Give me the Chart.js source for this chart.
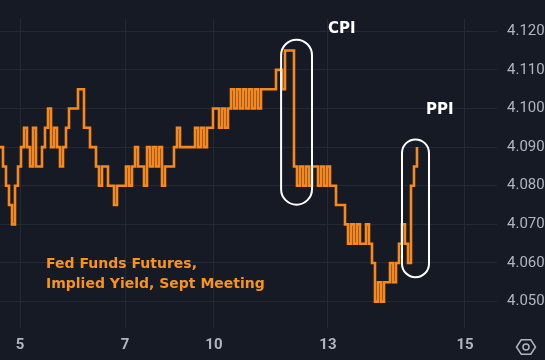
<!DOCTYPE html>
<html>
<head>
<meta charset="utf-8">
<script src="https://cdn.jsdelivr.net/npm/chart.js@4.4.1/dist/chart.umd.min.js"></script>
<style>
  html, body { margin: 0; padding: 0; background: #161a25; }
  canvas { display: block; }
</style>
</head>
<body>
<canvas id="myChart" width="545" height="360"></canvas>
<script>
// implied yield, one sample per step of the time axis
const yieldValues = [
  4.090, 4.085, 4.080, 4.075, 4.070, 4.080, 4.085, 4.090, 4.095, 4.090,
  4.085, 4.095, 4.085, 4.085, 4.090, 4.095, 4.100, 4.090, 4.095, 4.090,
  4.085, 4.090, 4.095, 4.100, 4.100, 4.100, 4.105, 4.105, 4.095, 4.095,
  4.090, 4.090, 4.085, 4.080, 4.085, 4.085, 4.080, 4.080, 4.075, 4.080,
  4.080, 4.080, 4.085, 4.080, 4.085, 4.090, 4.085, 4.085, 4.080, 4.090,
  4.085, 4.090, 4.085, 4.090, 4.080, 4.085, 4.085, 4.085, 4.090, 4.095,
  4.090, 4.090, 4.090, 4.090, 4.090, 4.095, 4.090, 4.095, 4.090, 4.095,
  4.095, 4.100, 4.100, 4.095, 4.100, 4.095, 4.100, 4.105, 4.100, 4.105,
  4.100, 4.105, 4.100, 4.105, 4.100, 4.105, 4.100, 4.105, 4.105, 4.105,
  4.105, 4.105, 4.110, 4.110, 4.105, 4.115, 4.115, 4.115, 4.085, 4.080,
  4.085, 4.080, 4.085, 4.080, 4.085, 4.085, 4.080, 4.085, 4.080, 4.085,
  4.080, 4.080, 4.075, 4.075, 4.075, 4.070, 4.065, 4.070, 4.065, 4.070,
  4.065, 4.065, 4.070, 4.065, 4.060, 4.050, 4.055, 4.050, 4.055, 4.055,
  4.060, 4.055, 4.060, 4.065, 4.070, 4.065, 4.060, 4.080, 4.085, 4.090
];
const dayLabels = ['5', '7', '10', '13', '15'];
const dayPositions = [6.7, 41.7, 71.3, 109.3, 155];
const yTicks = [4.05, 4.06, 4.07, 4.08, 4.09, 4.10, 4.11, 4.12];

const points = yieldValues.map((v, i) => ({ x: i, y: v }));

const overlay = {
  id: 'overlay',
  afterDraw(chart) {
    const c = chart.ctx;
    const xs = chart.scales.x, ys = chart.scales.y;

    function pill(x0, x1, y0, y1) {
      const l = xs.getPixelForValue(x0), r = xs.getPixelForValue(x1);
      const t = ys.getPixelForValue(y0), b = ys.getPixelForValue(y1);
      c.beginPath();
      c.roundRect(l, t, r - l, b - t, (r - l) / 2);
      c.stroke();
    }
    c.save();
    c.strokeStyle = '#ffffff';
    c.lineWidth = 2;
    pill(93.7, 104, 4.1178, 4.0751);   // CPI
    pill(134, 143, 4.0920, 4.0563);    // PPI

    c.fillStyle = '#ffffff';
    c.font = 'bold 15px "DejaVu Sans"';
    c.textBaseline = 'middle';
    c.fillText('CPI', 328, 29);
    c.fillText('PPI', 426, 110);

    c.fillStyle = '#f7941d';
    c.font = 'bold 14px "DejaVu Sans"';
    c.fillText('Fed Funds Futures,', 46, 264);
    c.fillText('Implied Yield, Sept Meeting', 46, 284);

    // settings icon
    c.strokeStyle = '#b2b5be';
    c.lineWidth = 1.5;
    const cx = 526, cy = 347, rw = 9.5;
    c.beginPath();
    for (let k = 0; k < 6; k++) {
      const a = Math.PI / 3 * k;
      const px = cx + rw * Math.cos(a), py = cy + rw * 0.87 * Math.sin(a);
      k ? c.lineTo(px, py) : c.moveTo(px, py);
    }
    c.closePath();
    c.stroke();
    c.beginPath();
    c.arc(cx, cy, 3, 0, Math.PI * 2);
    c.stroke();
    c.restore();
  }
};

const ctx = document.getElementById('myChart').getContext('2d');
const myChart = new Chart(ctx, {
  type: 'line',
  data: {
    datasets: [{
      data: points,
      borderColor: '#f7891c',
      borderWidth: 2.6,
      stepped: true,
      pointRadius: 0,
      fill: false
    }]
  },
  options: {
    responsive: false,
    animation: false,
    layout: { padding: 0 },
    plugins: { legend: { display: false }, tooltip: { enabled: false } },
    scales: {
      x: {
        type: 'linear',
        min: 0,
        max: 165.67,
        afterBuildTicks: s => { s.ticks = dayPositions.map(v => ({ value: v })); },
        afterFit: s => { s.height = 32; },
        grid: { color: '#242936', drawTicks: false },
        border: { display: false },
        ticks: {
          padding: 8,
          color: '#b2b5be',
          font: { family: 'Roboto', size: 15, weight: 'bold' },
          maxRotation: 0,
          autoSkip: false,
          callback: (v, i) => dayLabels[i]
        }
      },
      y: {
        position: 'right',
        min: 4.04317,
        max: 4.12317,
        afterBuildTicks: s => { s.ticks = yTicks.map(v => ({ value: v })); },
        afterFit: s => { s.width = 48; },
        grid: { color: '#242936', drawTicks: false },
        border: { display: false },
        ticks: {
          padding: 10,
          color: '#b2b5be',
          font: { family: 'Roboto', size: 15 },
          callback: v => v.toFixed(3)
        }
      }
    }
  },
  plugins: [overlay]
});
</script>
</body>
</html>
